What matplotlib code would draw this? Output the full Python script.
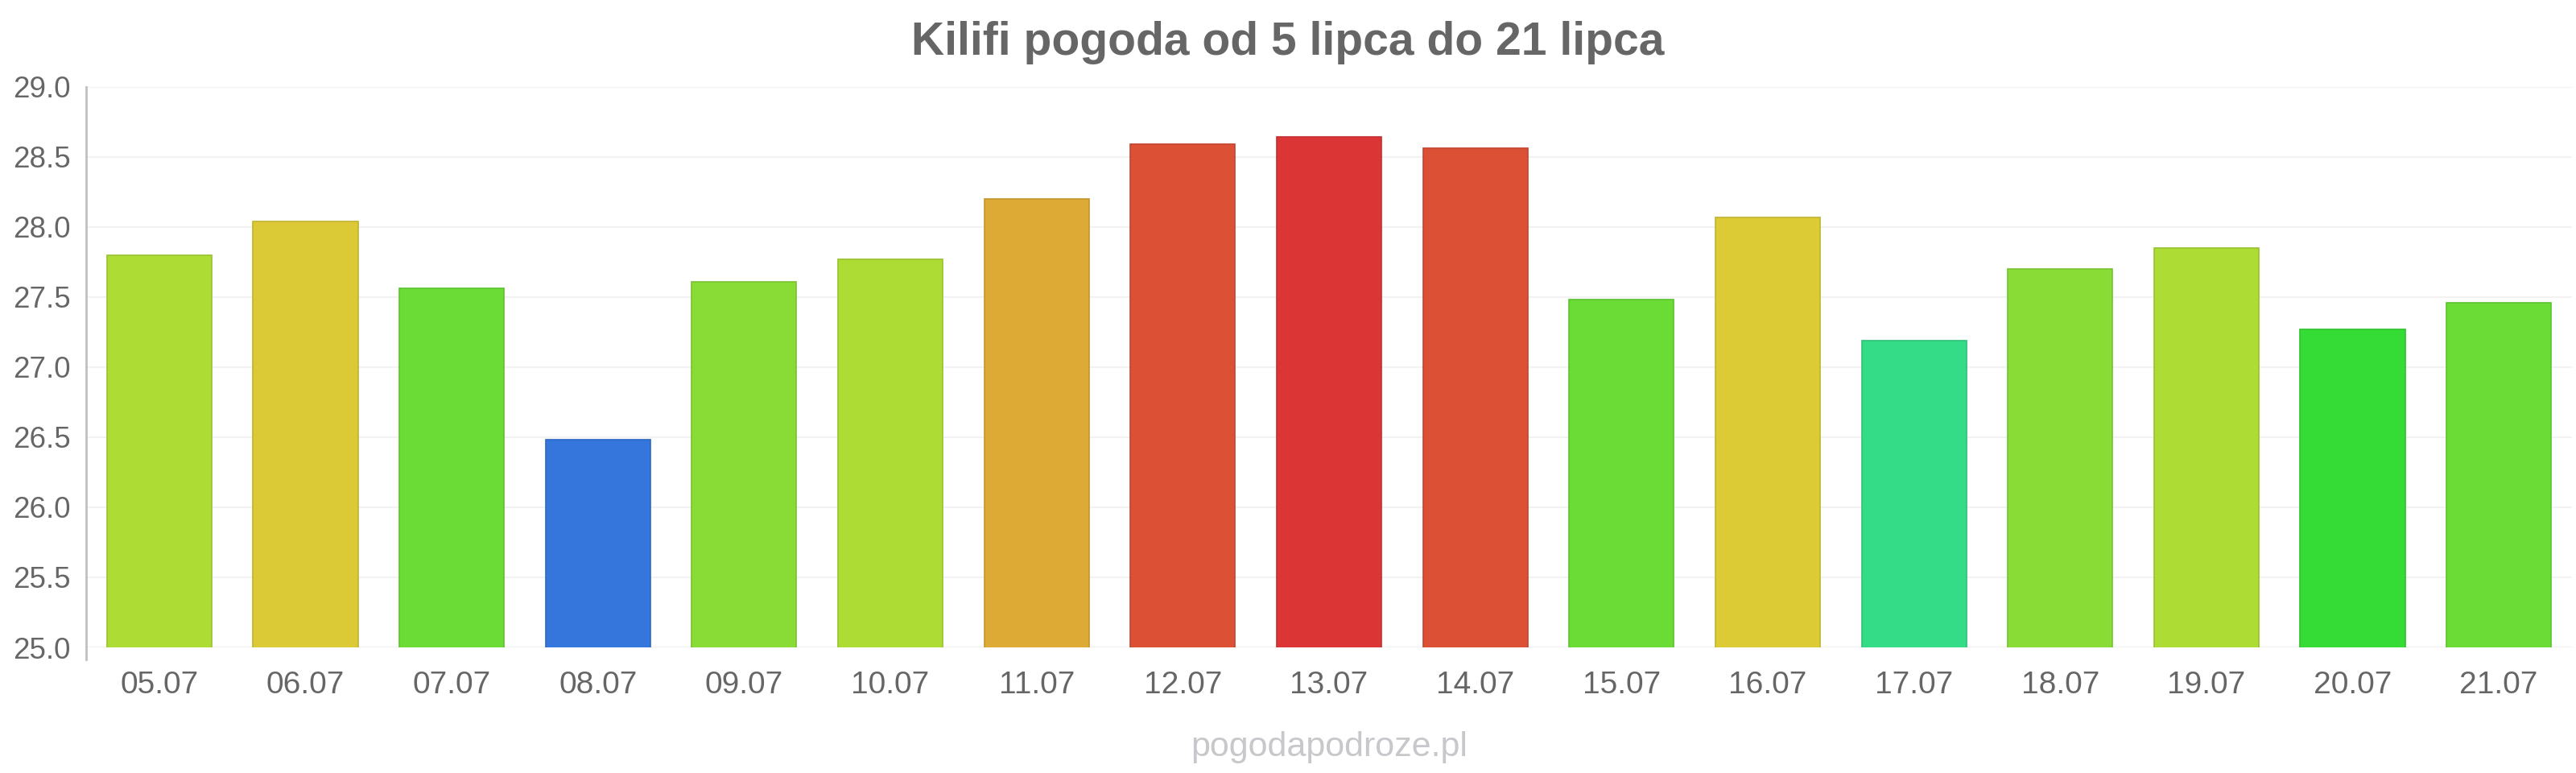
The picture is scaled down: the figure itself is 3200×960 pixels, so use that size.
"""Kilifi pogoda od 5 do 21 lipca — wykres słupkowy."""

import matplotlib

matplotlib.use("Agg")
import matplotlib.pyplot as plt
import numpy as np
from matplotlib.colors import to_rgb

plt.rcParams.update({
    "font.family": ["Liberation Sans", "DejaVu Sans"],
})

# dane
days = ["05.07", "06.07", "07.07", "08.07", "09.07", "10.07", "11.07", "12.07", "13.07",
        "14.07", "15.07", "16.07", "17.07", "18.07", "19.07", "20.07", "21.07"]
temps = [27.80, 28.04, 27.56, 26.48, 27.61, 27.77, 28.20, 28.59, 28.64,
         28.56, 27.48, 28.07, 27.19, 27.70, 27.85, 27.27, 27.46]
colors = ["#addc34", "#dbc935", "#6adc35", "#3476dc", "#88dc35", "#addc34", "#dcaa35",
          "#dc5035", "#dc3535", "#dc5035", "#6adc35", "#dccb35", "#35dc88", "#88dc35",
          "#addc34", "#35dc35", "#6adc35"]
yticks = [25.0, 25.5, 26.0, 26.5, 27.0, 27.5, 28.0, 28.5, 29.0]

TXT = "#666666"

fig = plt.figure(figsize=(32, 9.6), dpi=100)
ax = fig.add_axes([107 / 3200, 156 / 960, 3088 / 3200, 696.4 / 960])

edges = [tuple(c * 0.88 for c in to_rgb(col)) for col in colors]
x = np.arange(len(days))
ax.bar(x, temps, width=0.716, color=colors, edgecolor=edges, linewidth=1.2, zorder=3)

ax.set_xlim(-0.5, len(days) - 0.5)
ax.set_ylim(25, 29)
ax.set_yticks(yticks)
ax.set_yticklabels([f"{v:.1f}" for v in yticks])
ax.set_xticks(x)
ax.set_xticklabels(days)
ax.grid(axis="y", color="#f2f2f2", linewidth=1.5, zorder=0)

for s in ax.spines.values():
    s.set_visible(False)
# oś Y — szara linia, lekko poniżej 25.0
ax.plot([0, 0], [-0.022, 1], transform=ax.transAxes, color="#c0c0c0",
        linewidth=2, clip_on=False, zorder=4)

ax.tick_params(axis="y", length=0, pad=14, labelsize=26.5, labelcolor=TXT)
ax.tick_params(axis="x", length=0, pad=21, labelsize=28, labelcolor=TXT)

fig.text(0.5, 1 - 53 / 960, "Kilifi pogoda od 5 lipca do 21 lipca", ha="center",
         va="center", fontsize=41, fontweight="bold", color=TXT)
fig.text(1651 / 3200, 1 - 928 / 960, "pogodapodroze.pl", ha="center", va="center",
         fontsize=31, color="#c8c8cc")

fig.savefig("out.png", dpi=100)
